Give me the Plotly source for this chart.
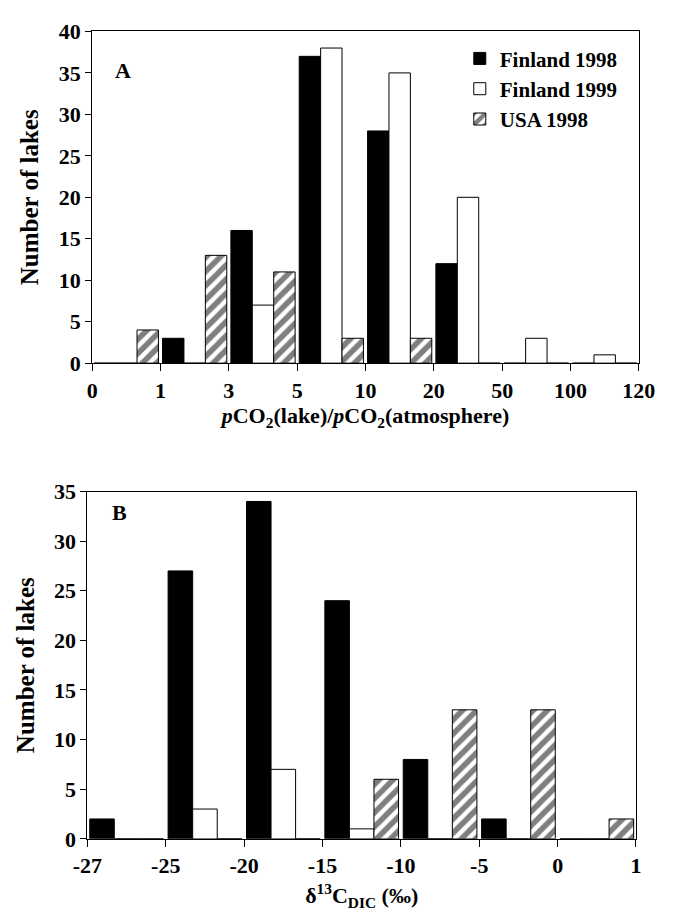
import plotly.graph_objects as go

# ---- Panel A data: pCO2(lake)/pCO2(atmosphere) bins ----
a_ticks = ["0", "1", "3", "5", "10", "20", "50", "100", "120"]
a_fin98 = [0, 3, 16, 37, 28, 12, 0, 0]
a_fin99 = [0, 0, 7, 38, 35, 20, 3, 1]
a_usa98 = [4, 13, 11, 3, 3, 0, 0, 0]

# ---- Panel B data: delta13C DIC bins ----
b_ticks = ["-27", "-25", "-20", "-15", "-10", "-5", "0", "1"]
b_fin98 = [2, 27, 34, 24, 8, 2, 0]
b_fin99 = [0, 3, 7, 1, 0, 0, 0]
b_usa98 = [0, 0, 0, 6, 13, 13, 2]

series_names = ["Finland 1998", "Finland 1999", "USA 1998"]

FONT = "Liberation Serif"
W, H = 673, 916


def px_x(p):
    return p / W


def px_y(p):
    return 1 - p / H


styles = {
    "Finland 1998": dict(color="black", line=dict(color="black", width=1)),
    "Finland 1999": dict(color="white", line=dict(color="black", width=1)),
    "USA 1998": dict(color="white", line=dict(color="black", width=1),
                     pattern=dict(shape="/", fgcolor="black", bgcolor="white",
                                  size=10, solidity=0.55)),
}

fig = go.Figure()

a_centers = [i + 0.5 for i in range(len(a_ticks) - 1)]
b_centers = [i + 0.5 for i in range(len(b_ticks) - 1)]

for name, vals in zip(series_names, [a_fin98, a_fin99, a_usa98]):
    fig.add_trace(go.Bar(x=a_centers, y=vals, name=name, marker=styles[name],
                         xaxis="x", yaxis="y", legendgroup=name, showlegend=True))
for name, vals in zip(series_names, [b_fin98, b_fin99, b_usa98]):
    fig.add_trace(go.Bar(x=b_centers, y=vals, name=name, marker=styles[name],
                         xaxis="x2", yaxis="y2", legendgroup=name, showlegend=False))

tickfont = dict(family=FONT, size=22, color="black", weight="bold")
titlefont = dict(family=FONT, size=22, color="black", weight="bold")
ytitlefont = dict(family=FONT, size=25, color="black", weight="bold")

common_x = dict(showgrid=False, zeroline=False, showline=True, mirror=True,
                linecolor="black", linewidth=1, ticks="outside", ticklen=7,
                tickcolor="black", tickfont=tickfont)
common_y = dict(showgrid=False, zeroline=False, showline=True, mirror=True,
                linecolor="black", linewidth=1, ticks="outside", ticklen=6,
                tickcolor="black", tickfont=tickfont, dtick=5)

fig.update_layout(
    width=W, height=H,
    margin=dict(l=0, r=0, t=0, b=0),
    paper_bgcolor="white", plot_bgcolor="white",
    barmode="group", bargap=0.06, bargroupgap=0,
    font=dict(family=FONT, color="black"),
    xaxis=dict(common_x, domain=[px_x(81), px_x(655)], anchor="y",
               range=[0, len(a_ticks) - 1], tickmode="array",
               tickvals=list(range(len(a_ticks))), ticktext=a_ticks,
               title=dict(text="<i>p</i>CO<sub>2</sub>(lake)/<i>p</i>CO<sub>2</sub>(atmosphere)",
                          font=titlefont, standoff=6)),
    yaxis=dict(common_y, domain=[px_y(361), px_y(20)], anchor="x", range=[0, 40],
               title=dict(text="Number of lakes", font=ytitlefont, standoff=12)),
    xaxis2=dict(common_x, domain=[px_x(76), px_x(652)], anchor="y2",
                range=[0, len(b_ticks) - 1], tickmode="array",
                tickvals=list(range(len(b_ticks))), ticktext=b_ticks,
                title=dict(text="δ<sup>13</sup>C<sub>DIC</sub> (‰)",
                           font=titlefont, standoff=10)),
    yaxis2=dict(common_y, domain=[px_y(850), px_y(493)], anchor="x2", range=[0, 35],
                title=dict(text="Number of lakes", font=ytitlefont, standoff=12)),
    legend=dict(x=px_x(467), y=px_y(27), xanchor="left", yanchor="top",
                bgcolor="rgba(0,0,0,0)", borderwidth=0,
                font=dict(family=FONT, size=21, color="black", weight="bold"),
                tracegroupgap=0),
    annotations=[
        dict(text="A", x=px_x(103), y=px_y(45), xref="paper", yref="paper",
             showarrow=False, font=dict(family=FONT, size=22, color="black", weight="bold")),
        dict(text="B", x=px_x(100), y=px_y(515), xref="paper", yref="paper",
             showarrow=False, font=dict(family=FONT, size=22, color="black", weight="bold")),
    ],
)

fig.write_html("out.html")
